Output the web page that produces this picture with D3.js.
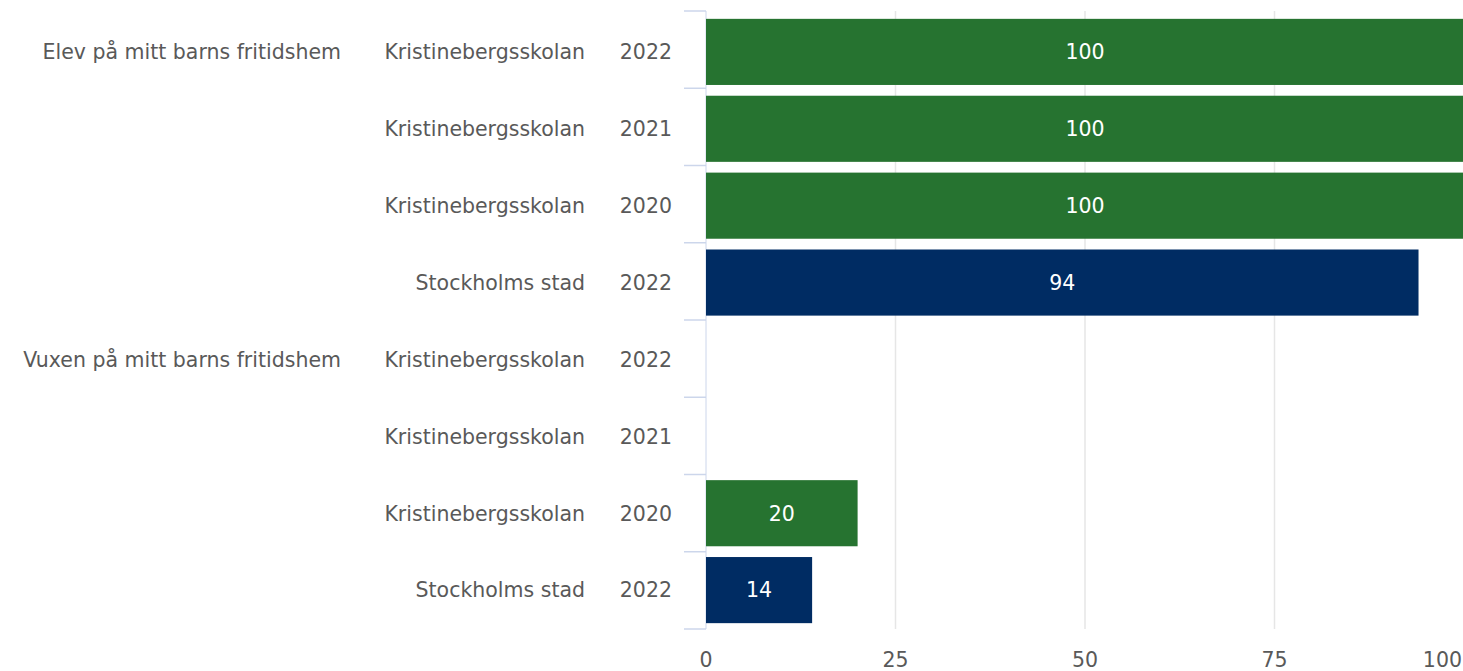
<!DOCTYPE html>
<html><head><meta charset="utf-8">
<script src="https://cdn.jsdelivr.net/npm/d3@7"></script>
<style>body{margin:0;background:#fff}svg{display:block}text{font-family:"DejaVu Sans",sans-serif}</style>
</head><body><div id="chart"></div>
<script>
const groups = ["Elev på mitt barns fritidshem","Vuxen på mitt barns fritidshem"];
const units = ["Kristinebergsskolan","Kristinebergsskolan","Kristinebergsskolan","Stockholms stad","Kristinebergsskolan","Kristinebergsskolan","Kristinebergsskolan","Stockholms stad"];
const years = ["2022","2021","2020","2022","2022","2021","2020","2022"];
const groupOfRow = [0,0,0,0,1,1,1,1];
const values = [100,100,100,94,null,null,20,14];
const colorKey = ["school","school","school","city","school","school","school","city"];
const xTicks = [0,25,50,75,100];
const colors = {school:"#267330", city:"#002c63"};

const W=1463,H=671;
const svg=d3.select("#chart").append("svg").attr("width",W).attr("height",H);
const x=d3.scaleLinear().domain([0,100]).range([706,1464]);
const rows=d3.range(values.length);
const y=d3.scaleBand().domain(rows).range([15,627]).paddingInner(0.14).paddingOuter(0.05);
const FS=20.5;

// grid
svg.append("g").selectAll("line").data(xTicks.filter(d=>d>0&&d<100)).join("line")
  .attr("x1",d=>x(d)).attr("x2",d=>x(d)).attr("y1",11).attr("y2",629)
  .attr("stroke","#e6e6e6").attr("stroke-width",1.5);
// axis line
svg.append("line").attr("x1",706).attr("x2",706).attr("y1",11).attr("y2",629).attr("stroke","#ccd6eb").attr("stroke-width",1);
// category ticks
const tStep=(629-11)/values.length;
svg.append("g").selectAll("line").data(d3.range(values.length+1)).join("line")
  .attr("x1",684).attr("x2",706)
  .attr("y1",d=>11+d*tStep).attr("y2",d=>11+d*tStep)
  .attr("stroke","#ccd6eb").attr("stroke-width",1.5);

// bars
svg.append("g").selectAll("rect").data(rows.filter(i=>values[i]!=null)).join("rect")
  .attr("x",x(0)).attr("y",i=>y(i)).attr("width",i=>x(values[i])-x(0)).attr("height",y.bandwidth())
  .attr("fill",i=>colors[colorKey[i]]);
svg.append("g").selectAll("text").data(rows.filter(i=>values[i]!=null)).join("text")
  .attr("x",i=>(x(0)+x(values[i]))/2).attr("y",i=>y(i)+y.bandwidth()/2).attr("dy","0.36em")
  .attr("text-anchor","middle").attr("fill","#fff").attr("font-size",FS)
  .text(i=>values[i]);

const cy=i=>y(i)+y.bandwidth()/2;
const lab=svg.append("g").attr("fill","#595959").attr("font-size",FS);
lab.selectAll(".yr").data(rows).join("text").attr("class","yr")
  .attr("x",672).attr("y",cy).attr("dy","0.36em").attr("text-anchor","end").text(i=>years[i]);
lab.selectAll(".un").data(rows).join("text").attr("class","un")
  .attr("x",585).attr("y",cy).attr("dy","0.36em").attr("text-anchor","end").text(i=>units[i]);
lab.selectAll(".gr").data(groups).join("text").attr("class","gr")
  .attr("x",341).attr("y",(d,g)=>cy(groupOfRow.indexOf(g))).attr("dy","0.36em").attr("text-anchor","end").text(d=>d);

// x axis labels
svg.append("g").attr("fill","#595959").attr("font-size",FS).selectAll("text").data(xTicks).join("text")
  .attr("x",d=>d===100?1462:x(d)).attr("y",660).attr("dy","0.36em")
  .attr("text-anchor",d=>d===100?"end":"middle").text(d=>d);
</script></body></html>
